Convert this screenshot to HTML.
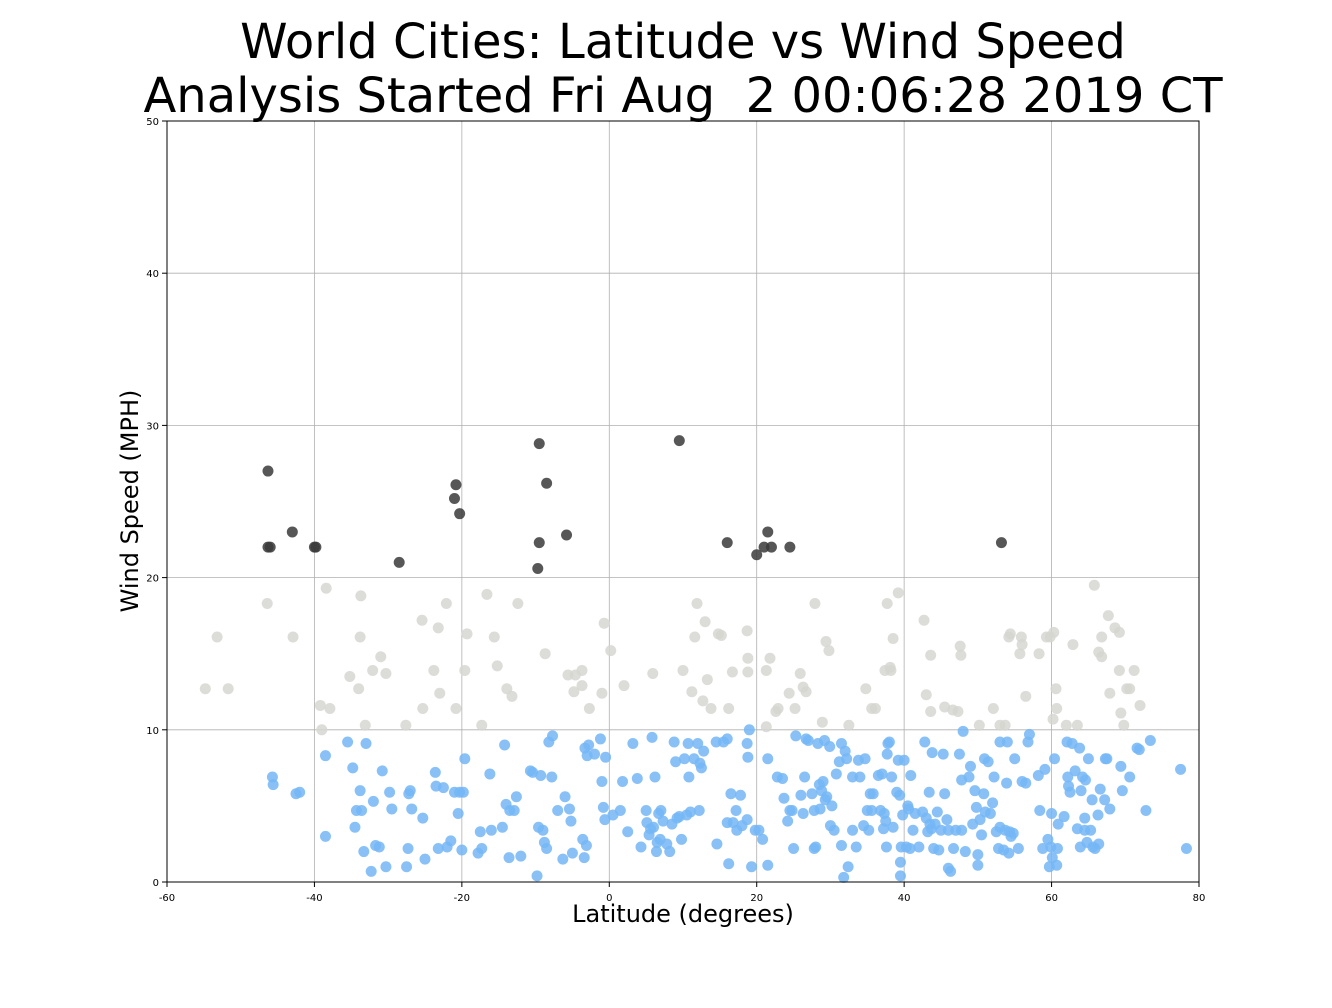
<!DOCTYPE html>
<html><head><meta charset="utf-8"><style>
html,body{margin:0;padding:0;background:#fff;}
svg{display:block;font-family:"DejaVu Sans","Liberation Sans",sans-serif;}
.pre{white-space:pre;}
</style></head><body>
<svg id="chart" width="1332" height="1008" viewBox="0 0 1332 1008" xmlns="http://www.w3.org/2000/svg">
<rect width="1332" height="1008" fill="#fff"/>
<text x="683" y="58" text-anchor="middle" font-size="48">World Cities: Latitude vs Wind Speed</text>
<text class="pre" xml:space="preserve" x="683" y="112" text-anchor="middle" font-size="48">Analysis Started Fri Aug  2 00:06:28 2019 CT</text>
<g id="grid"></g>
<g id="ticks"></g>
<g id="points"></g>
<rect x="167" y="121" width="1032" height="761" fill="none" stroke="#000" stroke-width="1"/>
<text x="683" y="922" text-anchor="middle" font-size="24">Latitude (degrees)</text>
<text transform="translate(138,501) rotate(-90)" text-anchor="middle" font-size="24">Wind Speed (MPH)</text>
</svg>
<script>
const xTicks=[-60,-40,-20,0,20,40,60,80];
const yTicks=[0,10,20,30,40,50];
const darkLat=[-46.3,-46.3,-46,-43,-40,-39.8,-28.5,-20.8,-21,-20.3,-9.5,-8.5,-9.5,-9.7,-5.8,9.5,16,20,21,21.5,22,24.5,53.2];
const darkWind=[27,22,22,23,22,22,21,26.1,25.2,24.2,28.8,26.2,22.3,20.6,22.8,29,22.3,21.5,22,23,22,22,22.3];
const grayLat=[-54.8,-53.2,-51.7,-46.4,-42.9,-39.2,-39.0,-37.9,-38.4,-35.2,-34.0,-33.7,-33.8,-33.1,-32.1,-31.0,-30.3,-27.6,-25.4,-25.3,-23.2,-23.8,-23.0,-22.1,-20.8,-19.6,-19.3,-17.3,-16.6,-15.6,-15.2,-13.9,-13.2,-12.4,-8.7,-5.6,-4.6,-4.8,-3.7,-3.7,-2.7,-1.0,-0.7,0.2,2.0,5.9,11.6,10.0,11.2,11.9,12.7,13.0,13.3,13.8,14.8,15.2,16.2,16.7,18.7,18.8,18.8,21.3,21.3,21.8,22.6,22.9,24.4,25.2,25.9,26.3,26.7,27.9,28.9,29.4,29.8,32.5,34.8,35.6,36.1,37.4,37.7,38.1,38.2,38.5,39.2,42.7,43.0,43.6,43.6,45.5,46.6,47.3,47.7,47.6,50.2,52.1,53.0,53.7,54.2,54.4,55.7,55.9,56.0,56.5,58.3,59.3,59.8,60.2,60.3,60.6,60.7,62.0,62.9,63.5,65.8,66.4,66.8,66.8,67.7,67.9,68.6,69.2,69.2,69.4,69.8,70.2,70.6,71.2,72.0];
const grayWind=[12.7,16.1,12.7,18.3,16.1,11.6,10.0,11.4,19.3,13.5,12.7,18.8,16.1,10.3,13.9,14.8,13.7,10.3,17.2,11.4,16.7,13.9,12.4,18.3,11.4,13.9,16.3,10.3,18.9,16.1,14.2,12.7,12.2,18.3,15.0,13.6,13.6,12.5,13.9,12.9,11.4,12.4,17.0,15.2,12.9,13.7,16.1,13.9,12.5,18.3,11.9,17.1,13.3,11.4,16.3,16.2,11.4,13.8,16.5,14.7,13.8,13.9,10.2,14.7,11.2,11.4,12.4,11.4,13.7,12.8,12.5,18.3,10.5,15.8,15.2,10.3,12.7,11.4,11.4,13.9,18.3,14.1,13.9,16.0,19.0,17.2,12.3,11.2,14.9,11.5,11.3,11.2,14.9,15.5,10.3,11.4,10.3,10.3,16.1,16.3,15.0,16.1,15.6,12.2,15.0,16.1,16.1,10.7,16.4,12.7,11.4,10.3,15.6,10.3,19.5,15.1,16.1,14.8,17.5,12.4,16.7,16.4,13.9,11.1,10.3,12.7,12.7,13.9,11.6];
const blueLat=[-45.7,-45.6,-42.5,-42,-38.5,-38.5,-35.5,-34.8,-34.5,-34.3,-33.8,-33.6,-33.3,-33,-32.3,-32,-31.7,-31.2,-30.8,-30.3,-29.8,-29.5,-27.5,-27.3,-27.2,-27,-26.8,-25.3,-25,-23.6,-23.5,-23.2,-22.5,-22,-21.5,-21,-20.5,-20.3,-20,-19.8,-19.6,-17.8,-17.5,-17.3,-16.2,-16,-14.5,-14.2,-14,-13.6,-13.5,-12.9,-12.6,-12,-10.7,-10.4,-9.8,-9.6,-9.3,-9,-8.8,-8.5,-8.2,-7.8,-7.7,-7,-6.3,-6,-5.4,-5.2,-5,-3.6,-3.3,-3.4,-3.1,-3,-2.8,-2,-1.2,-1,-0.8,-0.6,-0.5,0.5,1.5,1.8,2.5,3.2,3.8,4.3,5,5.1,5.4,5.6,5.8,6,6.2,6.4,6.5,6.7,6.9,7,7.3,7.8,8.2,8.5,8.8,9,9.2,9.5,9.8,10.2,10.5,10.7,10.8,11,11.5,12,12.2,12.3,12.5,12.8,14.5,14.6,15.5,16,16,16.2,16.5,16.8,17.2,17.3,17.8,18,18.7,18.7,18.8,19,19.3,19.8,20.3,20.8,21.5,21.5,22.8,23.5,23.7,24.2,24.5,24.8,25,25.3,26,26.3,26.5,26.7,27,27.5,27.8,27.8,28,28.3,28.5,28.6,28.8,29,29.2,29.3,29.5,29.9,30,30.2,30.5,30.8,31.2,31.5,31.5,31.8,32,32.2,32.4,33,33,33.5,33.8,34,34.5,34.7,35,35.2,35.4,35.6,35.8,36.5,36.8,37,37.2,37.3,37.5,37.6,37.7,37.8,38,38.3,38.5,39,39.2,39.4,39.5,39.5,39.6,39.8,40,40.3,40.5,40.6,40.8,40.9,41.2,41.5,42,42.5,42.8,43,43.2,43.4,43.5,43.7,43.8,44,44.2,44.5,44.7,45,45.3,45.5,45.8,46,46,46.3,46.7,47,47.5,47.8,47.8,48,48.3,48.8,49,49.3,49.6,49.8,50,50,50.3,50.5,50.8,50.9,51,51.4,51.7,52,52.2,52.5,52.8,53,53,53.5,53.7,53.9,54,54.2,54.3,54.5,54.8,55,55.5,56,56.5,56.8,57,58.2,58.4,58.8,59.1,59.5,59.7,59.9,60,60.1,60.4,60.7,60.8,60.9,61.7,62.1,62.2,62.3,62.5,62.8,63.2,63.5,63.8,63.9,64,64.2,64.5,64.5,64.6,64.8,65,65.3,65.5,65.6,65.9,66.3,66.4,66.6,67.2,67.3,67.5,67.9,69.4,69.6,70.6,71.6,71.9,72.8,73.4,77.5,78.3];
const blueWind=[6.9,6.4,5.8,5.9,8.3,3,9.2,7.5,3.6,4.7,6,4.7,2,9.1,0.7,5.3,2.4,2.3,7.3,1,5.9,4.8,1,2.2,5.8,6,4.8,4.2,1.5,7.2,6.3,2.2,6.2,2.3,2.7,5.9,4.5,5.9,2.1,5.9,8.1,1.9,3.3,2.2,7.1,3.4,3.6,9,5.1,1.6,4.7,4.7,5.6,1.7,7.3,7.2,0.4,3.6,7,3.4,2.6,2.2,9.2,6.9,9.6,4.7,1.5,5.6,4.8,4,1.9,2.8,8.8,1.6,2.4,8.3,9,8.4,9.4,6.6,4.9,4.1,8.2,4.4,4.7,6.6,3.3,9.1,6.8,2.3,4.7,3.9,3.1,3.5,9.5,3.6,6.9,2,2.6,4.5,2.8,4.7,4,2.5,2,3.8,9.2,7.9,4.2,4.3,2.8,8.1,4.4,9.1,6.9,4.6,8.1,9.1,4.7,7.8,7.5,8.6,9.2,2.5,9.2,9.4,3.9,1.2,5.8,3.9,4.7,3.4,5.7,3.7,9.1,4.1,8.2,10,1,3.4,3.4,2.8,1.1,8.1,6.9,6.8,5.5,4,4.7,4.7,2.2,9.6,5.7,4.5,6.9,9.4,9.3,5.8,4.7,2.2,2.3,9.1,6.4,4.8,6,6.6,9.3,5.4,5.6,8.9,3.7,5,3.4,7.1,7.9,2.4,9.1,0.3,8.6,8.1,1,3.4,6.9,2.3,8,6.9,3.7,8.1,4.7,3.4,5.8,4.7,5.8,7,4.7,7.1,3.5,4.5,4,2.3,8.4,9.1,9.2,6.9,3.6,5.9,8,5.7,1.3,0.4,2.3,4.4,8,2.3,5,4.8,2.2,7,3.4,4.5,2.3,4.6,9.2,4.2,3.3,5.9,3.8,3.5,8.5,2.2,3.8,4.6,2.1,3.4,8.4,5.8,4.1,3.4,0.9,0.7,2.2,3.4,8.4,6.7,3.4,9.9,2,6.9,7.6,3.8,6,4.9,1.8,1.1,4.1,3.1,5.8,8.1,4.6,7.9,4.5,5.2,6.9,3.3,2.2,3.6,9.2,2.1,3.4,6.5,9.2,1.9,3.3,3,3.2,8.1,2.2,6.6,6.5,9.2,9.7,7,4.7,2.2,7.4,2.8,1,2.3,4.5,1.6,8.1,1.1,2.2,3.8,4.3,9.2,6.9,6.3,5.9,9.1,7.3,3.5,8.8,2.3,6,6.9,4.2,3.4,6.7,2.6,8.1,3.4,5.4,2.3,2.2,4.4,2.5,6.1,5.4,8.1,8.1,4.8,7.6,6,6.9,8.8,8.7,4.7,9.3,7.4,2.2];
const NS='http://www.w3.org/2000/svg';
const L=167,R=1199,T=121,B=882;
function xs(v){return L+(v+60)/140*(R-L);}
function ys(v){return B-v/50*(B-T);}
const grid=document.getElementById('grid'),ticks=document.getElementById('ticks'),pts=document.getElementById('points');
function mk(tag,attrs,parent){const e=document.createElementNS(NS,tag);for(const k in attrs)e.setAttribute(k,attrs[k]);parent.appendChild(e);return e;}
xTicks.forEach(t=>{
  const x=xs(t);
  const g=mk('line',{x1:x,x2:x,y1:T,y2:B,stroke:'#b0b0b0','stroke-width':0.8},grid);
  
  
  const tk=mk('line',{x1:x,x2:x,y1:B,y2:B+5,stroke:'#000'},ticks);
  
  
  const tx=mk('text',{x:x,y:B+19,'text-anchor':'middle','font-size':10},ticks);
  tx.textContent=t;
  
  
});
yTicks.forEach(t=>{
  const y=ys(t);
  const g=mk('line',{x1:L,x2:R,y1:y,y2:y,stroke:'#b0b0b0','stroke-width':0.8},grid);
  
  
  const tk=mk('line',{x1:L-5,x2:L,y1:y,y2:y,stroke:'#000'},ticks);
  
  
  const tx=mk('text',{x:L-8,y:y+4,'text-anchor':'end','font-size':10},ticks);
  tx.textContent=t;
  
  
});
function series(lat,wind,color,name){
  lat.forEach((v,i)=>{
    const c=mk('circle',{cx:xs(v),cy:ys(wind[i]),r:5.5,fill:color,'fill-opacity':0.85},pts);
    
    
  });
}
series(grayLat,grayWind,'#d6d6d1','point-moderate-wind');
series(blueLat,blueWind,'#74b6f6','point-low-wind');
series(darkLat,darkWind,'#3a3a3a','point-high-wind');
</script>
</body></html>
